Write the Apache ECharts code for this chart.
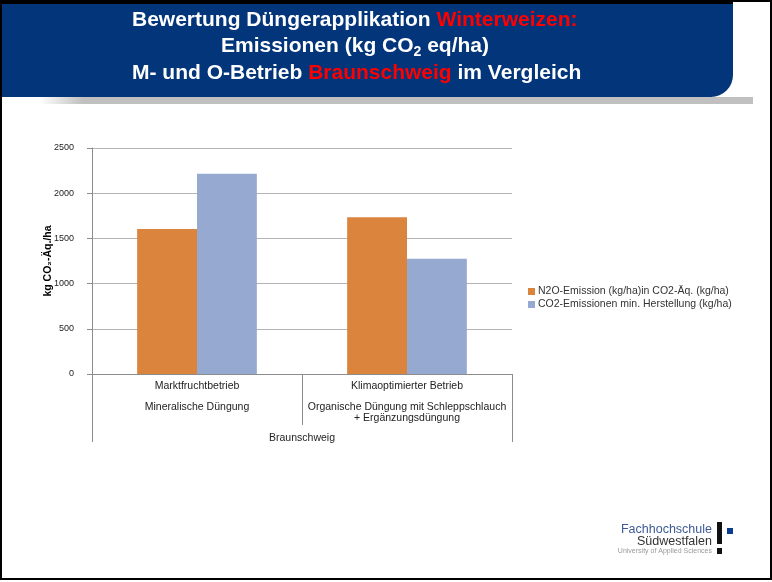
<!DOCTYPE html>
<html>
<head>
<meta charset="utf-8">
<script src="https://cdn.jsdelivr.net/npm/echarts@6/dist/echarts.min.js"></script>
<style>
  html, body { margin: 0; padding: 0; background: #fff; }
  #chart { width: 772px; height: 582px; }
</style>
</head>
<body>
<div id="chart"></div>
<script>
const betriebe = ["Marktfruchtbetrieb", "Klimaoptimierter Betrieb"];
const duengung = ["Mineralische Düngung", "Organische Düngung mit Schleppschlauch\n+ Ergänzungsdüngung"];
const standort = ["Braunschweig"];
const seriesNames = ["N2O-Emission (kg/ha)in CO2-Äq. (kg/ha)", "CO2-Emissionen min. Herstellung (kg/ha)"];
const n2oValues = [1605, 1735];
const co2Values = [2215, 1275];
const seriesColors = ["#db843d", "#95a9d1"];

const font = "Liberation Sans, Arial, sans-serif";
const axisGrey = "#8c8c8c";

// category labels: betrieb on first row, duengung (possibly 2 lines) below
const catLabels = betriebe.map((b, i) =>
  "{a|" + b + "}\n{s| }\n" + duengung[i].split("\n").map(l => "{b|" + l + "}").join("\n"));

const chart = echarts.init(document.getElementById("chart"));
chart.setOption({
  animation: false,
  textStyle: { fontFamily: font },
  grid: { left: 92, right: 260, top: 148, bottom: 208, containLabel: false },
  legend: {
    orient: "vertical",
    left: 523,
    top: 281,
    itemWidth: 7,
    itemHeight: 7,
    itemGap: 2,
    icon: "rect",
    textStyle: { fontSize: 10.5, color: "#333", fontFamily: font, padding: [0, 0, 0, -2] },
    data: seriesNames
  },
  xAxis: [
    {
      type: "category",
      data: catLabels,
      axisLine: { lineStyle: { color: axisGrey, width: 1 } },
      axisTick: { show: true, length: 51, lineStyle: { color: axisGrey } },
      axisLabel: {
        interval: 0,
        margin: 6,
        color: "#222",
        fontFamily: font,
        rich: {
          a: { fontSize: 10.5, lineHeight: 12, align: "center", color: "#222", fontFamily: font },
          s: { fontSize: 6, lineHeight: 10 },
          b: { fontSize: 10.5, lineHeight: 11, align: "center", color: "#222", fontFamily: font }
        }
      }
    },
    {
      type: "category",
      position: "bottom",
      data: standort,
      axisLine: { show: false },
      axisTick: { show: true, length: 68, lineStyle: { color: axisGrey } },
      axisLabel: { margin: 58, fontSize: 10.5, color: "#222", fontFamily: font, lineHeight: 12 }
    }
  ],
  yAxis: {
    type: "value",
    min: 0,
    max: 2500,
    interval: 500,
    name: "kg CO₂-Äq./ha",
    nameLocation: "middle",
    nameGap: 38,
    nameMoveOverlap: false,
    nameTextStyle: { fontSize: 10.5, fontWeight: "bold", color: "#000", fontFamily: font },
    axisLine: { show: true, lineStyle: { color: axisGrey } },
    axisTick: { show: true, length: 5, lineStyle: { color: axisGrey } },
    axisLabel: { fontSize: 9, color: "#222", margin: 18, fontFamily: font, formatter: v => String(v) },
    splitLine: { lineStyle: { color: "#b4b4b4", width: 1 } }
  },
  series: [
    {
      name: seriesNames[0],
      type: "bar",
      data: n2oValues,
      barGap: "0%",
      barCategoryGap: "43%",
      itemStyle: { color: seriesColors[0] }
    },
    {
      name: seriesNames[1],
      type: "bar",
      data: co2Values,
      barGap: "0%",
      barCategoryGap: "43%",
      itemStyle: { color: seriesColors[1] }
    }
  ],
  graphic: [
    // frame
    { type: "rect", shape: { x: 1, y: 1, width: 770, height: 578 }, style: { fill: "none", stroke: "#000", lineWidth: 2 }, z: 100 },
    // banner shadow
    {
      type: "rect", shape: { x: 40, y: 97, width: 713, height: 7 },
      style: { fill: new echarts.graphic.LinearGradient(0, 0, 1, 0, [
        { offset: 0, color: "rgba(192,192,192,0)" },
        { offset: 0.06, color: "#c0c0c0" },
        { offset: 1, color: "#c0c0c0" }
      ]) }, z: 90
    },
    // banner
    { type: "rect", shape: { x: 2, y: 3, width: 731, height: 94, r: [0, 0, 22, 0] }, style: { fill: "#02357a" }, z: 91 },
    { type: "rect", shape: { x: 2, y: 1, width: 731, height: 3 }, style: { fill: "#000" }, z: 101 },
    {
      type: "text", left: 132, top: 10, z: 95,
      style: {
        text: "{w|Bewertung Düngerapplikation }{r|Winterweizen:}",
        rich: {
          w: { fontSize: 21, fontWeight: "bold", fill: "#fff", fontFamily: font },
          r: { fontSize: 21, fontWeight: "bold", fill: "#ff0000", fontFamily: font }
        }
      }
    },
    {
      type: "text", left: 221, top: 36, z: 95,
      style: {
        text: "{w|Emissionen (kg CO}{sub|2}{w| eq/ha)}",
        rich: {
          w: { fontSize: 21, fontWeight: "bold", fill: "#fff", fontFamily: font, verticalAlign: "top" },
          sub: { fontSize: 14, fontWeight: "bold", fill: "#fff", fontFamily: font, padding: [9, 0, 0, 0] }
        }
      }
    },
    {
      type: "text", left: 132, top: 63, z: 95,
      style: {
        text: "{w|M- und O-Betrieb }{r|Braunschweig}{w| im Vergleich}",
        rich: {
          w: { fontSize: 21, fontWeight: "bold", fill: "#fff", fontFamily: font },
          r: { fontSize: 21, fontWeight: "bold", fill: "#ff0000", fontFamily: font }
        }
      }
    },
    // logo
    { type: "text", right: 60, top: 523, style: { text: "Fachhochschule", fontSize: 12.5, fill: "#3c5a96", fontFamily: font } },
    { type: "text", right: 60, top: 535, style: { text: "Südwestfalen", fontSize: 12.5, fill: "#333", fontFamily: font } },
    { type: "text", right: 60, top: 548, style: { text: "University of Applied Sciences", fontSize: 7, fill: "#999", fontFamily: font } },
    { type: "rect", shape: { x: 717, y: 522, width: 5, height: 22 }, style: { fill: "#111" } },
    { type: "rect", shape: { x: 717, y: 548, width: 5, height: 6 }, style: { fill: "#111" } },
    { type: "rect", shape: { x: 727, y: 528, width: 6, height: 6 }, style: { fill: "#0a3d8f" } }
  ]
});
</script>
</body>
</html>
